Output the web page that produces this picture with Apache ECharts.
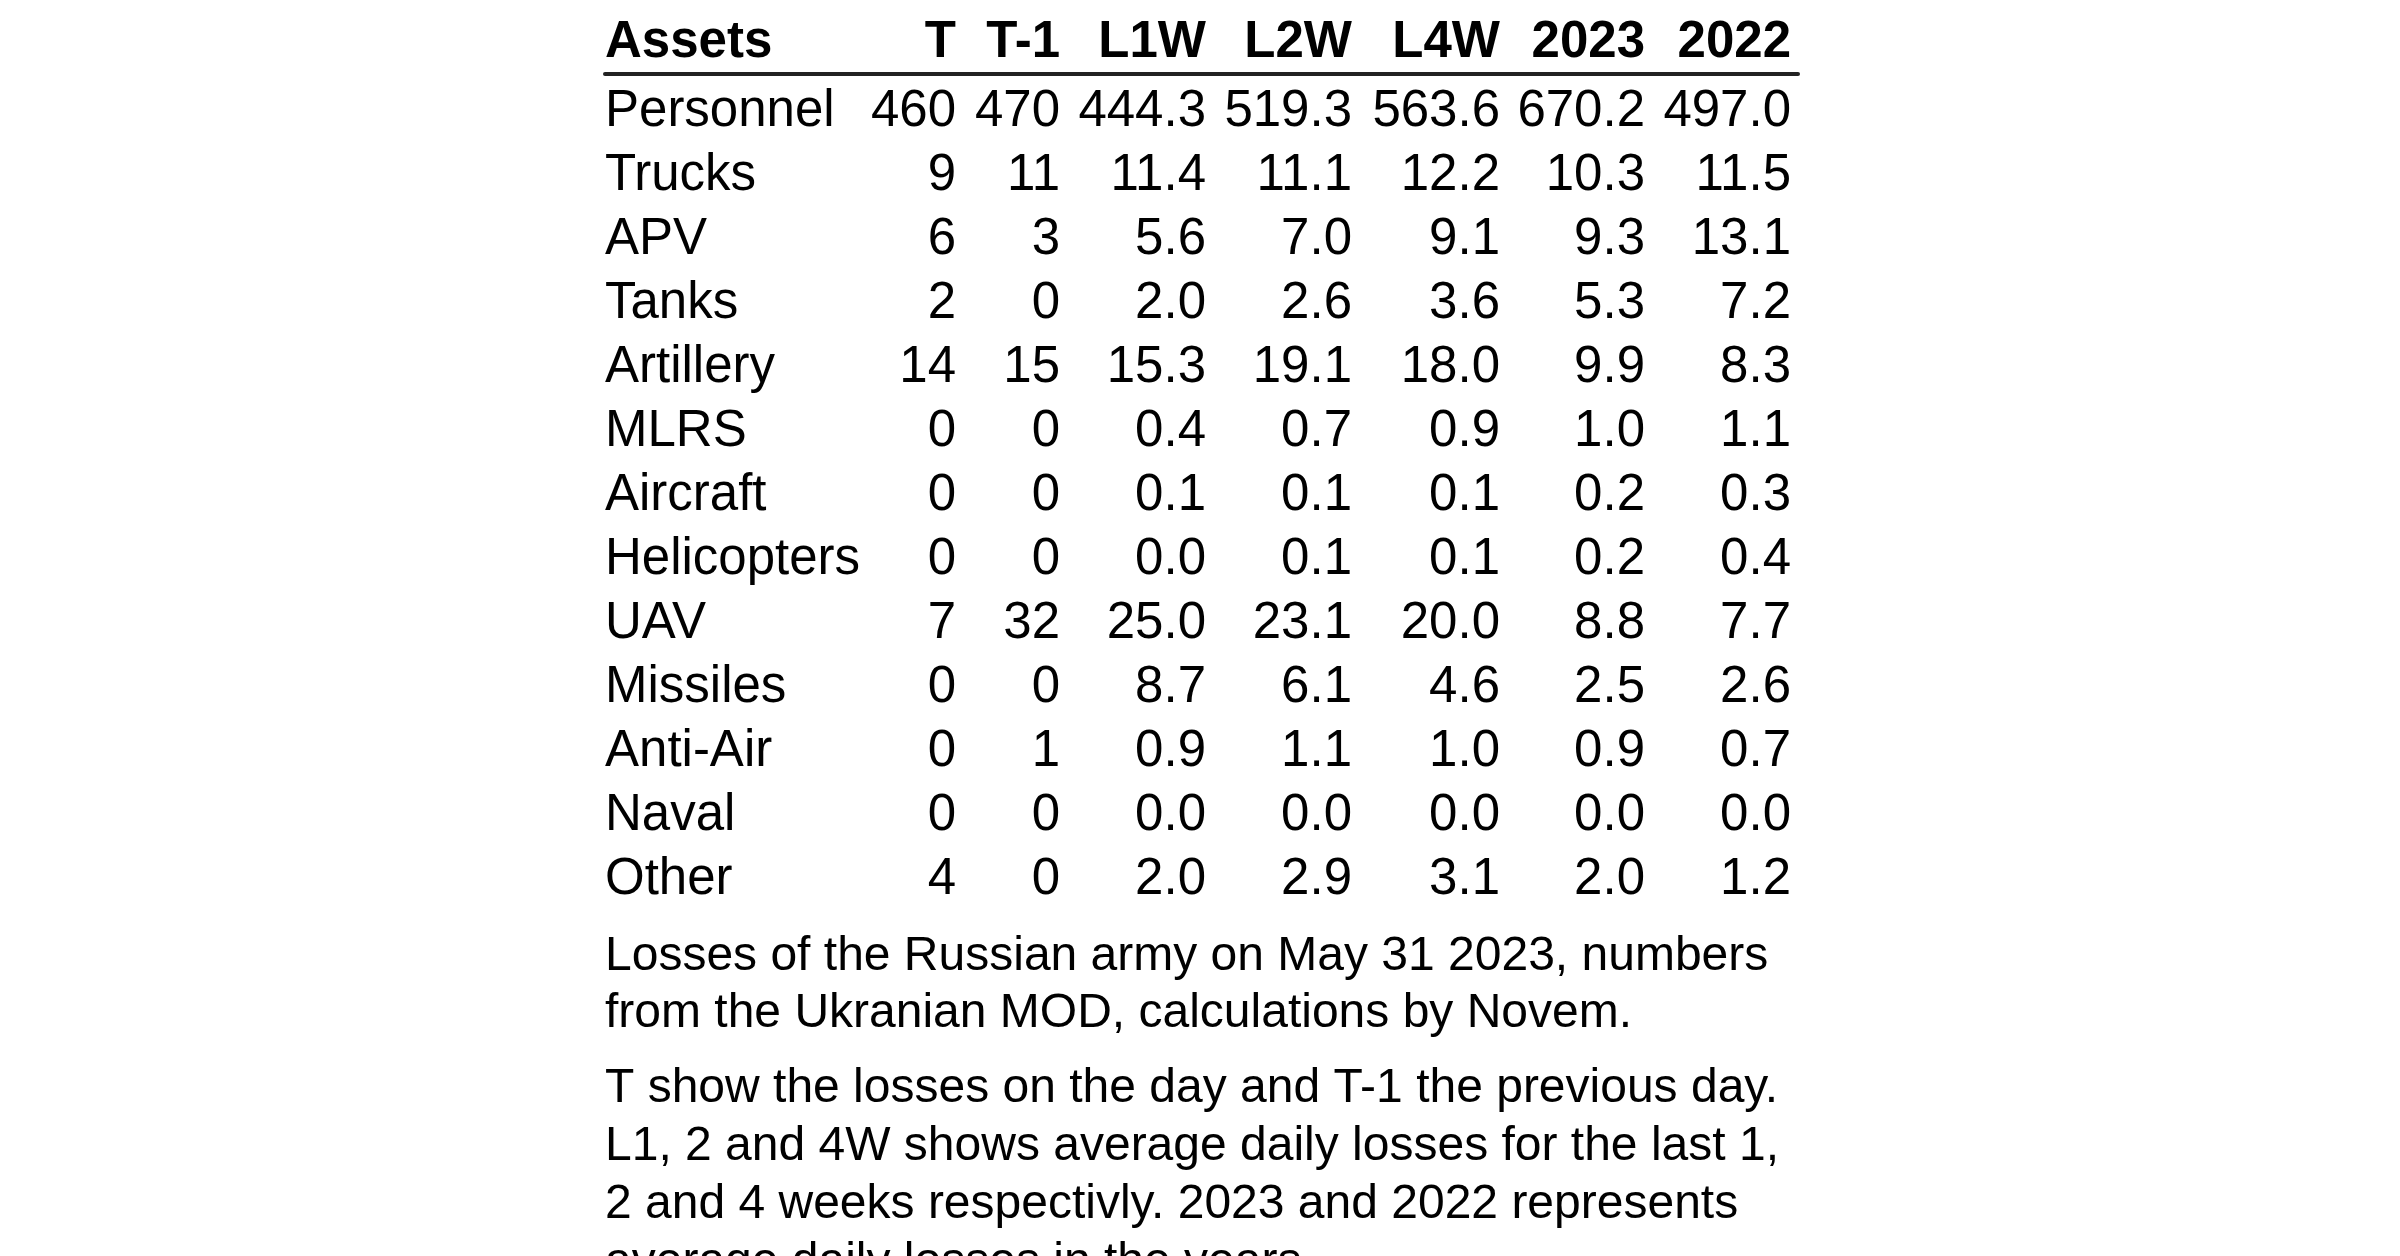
<!DOCTYPE html>
<html>
<head>
<meta charset="utf-8">
<script src="https://cdn.jsdelivr.net/npm/echarts@6/dist/echarts.min.js"></script>
<style>
  html, body { margin: 0; padding: 0; background: #fff; }
  #main { width: 2400px; height: 1256px; }
</style>
</head>
<body>
<div id="main"></div>
<script>
// rows of the table
var assets = ['Personnel', 'Trucks', 'APV', 'Tanks', 'Artillery', 'MLRS', 'Aircraft',
    'Helicopters', 'UAV', 'Missiles', 'Anti-Air', 'Naval', 'Other'];
// column headers
var columns = ['T', 'T-1', 'L1W', 'L2W', 'L4W', '2023', '2022'];
// values per column
var valT    = [460, 9, 6, 2, 14, 0, 0, 0, 7, 0, 0, 0, 4];
var valT1   = [470, 11, 3, 0, 15, 0, 0, 0, 32, 0, 1, 0, 0];
var valL1W  = [444.3, 11.4, 5.6, 2.0, 15.3, 0.4, 0.1, 0.0, 25.0, 8.7, 0.9, 0.0, 2.0];
var valL2W  = [519.3, 11.1, 7.0, 2.6, 19.1, 0.7, 0.1, 0.1, 23.1, 6.1, 1.1, 0.0, 2.9];
var valL4W  = [563.6, 12.2, 9.1, 3.6, 18.0, 0.9, 0.1, 0.1, 20.0, 4.6, 1.0, 0.0, 3.1];
var val2023 = [670.2, 10.3, 9.3, 5.3, 9.9, 1.0, 0.2, 0.2, 8.8, 2.5, 0.9, 0.0, 2.0];
var val2022 = [497.0, 11.5, 13.1, 7.2, 8.3, 1.1, 0.3, 0.4, 7.7, 2.6, 0.7, 0.0, 1.2];
var decimals = [0, 0, 1, 1, 1, 1, 1];

var columnValues = [valT, valT1, valL1W, valL2W, valL4W, val2023, val2022];

// layout: right edge of each column, in px from the table's left edge
var tableWidth = 1193;
var colEdge = [351, 455, 601, 747, 895, 1040, 1186];
var font = "'Liberation Sans', Arial, sans-serif";

var dom = document.getElementById('main');
var myChart = echarts.init(dom);

function textSeries(axis, data, align, bold, dy, fmt) {
    return {
        type: 'scatter',
        xAxisIndex: axis,
        yAxisIndex: axis,
        symbolSize: 0,
        silent: true,
        itemStyle: { opacity: 1 },
        data: data,
        label: {
            show: true,
            position: 'inside',
            offset: [0, dy],
            align: align,
            verticalAlign: 'middle',
            fontFamily: font,
            fontSize: 51,
            fontWeight: bold ? 'bold' : 'normal',
            color: '#000',
            formatter: fmt
        }
    };
}

var series = [];
// header row
series.push(textSeries(0, [[0, 'Assets', 'Assets']], 'left', true, 6,
    function (p) { return p.data[2]; }));
series.push(textSeries(0, columns.map(function (c, k) {
    return [colEdge[k], 'Assets', c];
}), 'right', true, 6, function (p) { return p.data[2]; }));
// asset names
series.push(textSeries(1, assets.map(function (a) { return [0, a]; }), 'left', false, 5,
    function (p) { return p.data[1]; }));
// value columns
columnValues.forEach(function (vals, k) {
    var s = textSeries(1, vals.map(function (v, i) { return [colEdge[k], assets[i], v]; }),
        'right', false, 5, function (p) { return p.data[2].toFixed(decimals[k]); });
    s.name = columns[k];
    series.push(s);
});

var option = {
    backgroundColor: '#fff',
    animation: false,
    grid: [
        { left: 605, width: tableWidth, top: 0, height: 74 },
        { left: 605, width: tableWidth, top: 75, height: 832 }
    ],
    xAxis: [
        {
            gridIndex: 0, type: 'value', min: 0, max: tableWidth, position: 'bottom',
            axisLine: { show: true, onZero: false, lineStyle: { color: '#222', width: 4 } },
            axisTick: { show: false }, axisLabel: { show: false }, splitLine: { show: false }
        },
        {
            gridIndex: 1, type: 'value', min: 0, max: tableWidth, show: false
        }
    ],
    yAxis: [
        { gridIndex: 0, type: 'category', data: ['Assets'], show: false },
        { gridIndex: 1, type: 'category', data: assets, inverse: true, show: false }
    ],
    graphic: [
        {
            type: 'text', left: 605, top: 928,
            style: {
                text: 'Losses of the Russian army on May 31 2023, numbers\nfrom the Ukranian MOD, calculations by Novem.',
                font: "48px 'Liberation Sans', Arial, sans-serif", fill: '#000', lineHeight: 57
            }
        },
        {
            type: 'text', left: 605, top: 1060,
            style: {
                text: 'T show the losses on the day and T-1 the previous day.\nL1, 2 and 4W shows average daily losses for the last 1,\n2 and 4 weeks respectivly. 2023 and 2022 represents\naverage daily losses in the years.',
                font: "48px 'Liberation Sans', Arial, sans-serif", fill: '#000', lineHeight: 58
            }
        }
    ],
    series: series
};

if (option && typeof option === "object") {
    myChart.setOption(option, true);
}
</script>
</body>
</html>
